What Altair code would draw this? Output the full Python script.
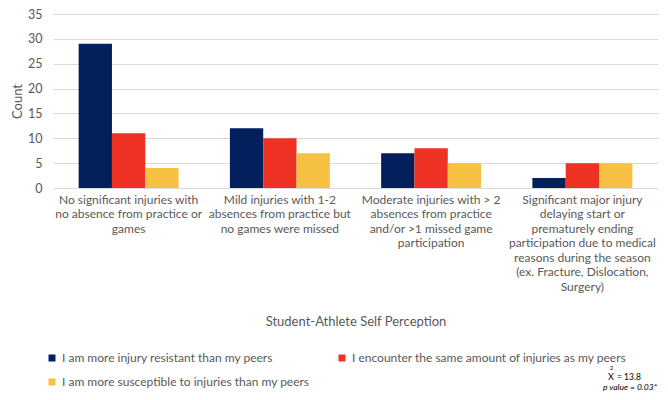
import altair as alt
import pandas as pd

# ---- data ----
category_lines = [
    ["No significant injuries with", "no absence from practice or", "games"],
    ["Mild injuries with 1-2", "absences from practice but", "no games were missed"],
    ["Moderate injuries with > 2", "absences from practice", "and/or >1 missed game", "participation"],
    ["Significant major injury", "delaying start or", "prematurely ending",
     "participation due to medical", "reasons during the season",
     "(ex. Fracture, Dislocation,", "Surgery)"],
]
series_names = [
    "I am more injury resistant than my peers",
    "I encounter the same amount of injuries as my peers",
    "I am more susceptible to injuries than my peers",
]
resistant = [29, 12, 7, 2]
same = [11, 10, 8, 5]
susceptible = [4, 7, 5, 5]
series_colors = ["#03205C", "#EE3224", "#F6C143"]

chi_label = "X"
chi_sup = "2"
chi_value = "= 13.8"
p_label = "p value = 0.03*"

categories = ["\n".join(l) for l in category_lines]
rows = []
for vals, name in zip([resistant, same, susceptible], series_names):
    for c, v in zip(categories, vals):
        rows.append({"category": c, "series": name, "count": v})
df = pd.DataFrame(rows)

FONT = "Lato"
GREY = "#595959"

bars = alt.Chart(df).mark_bar().encode(
    x=alt.X("category:N", sort=categories,
            scale=alt.Scale(paddingInner=0.339, paddingOuter=0.1695),
            axis=alt.Axis(title="Student-Athlete Self Perception", labelAngle=0,
                          labelExpr="split(datum.label, '\\n')",
                          labelBaseline="top", labelLineHeight=14.5,
                          labelPadding=6, labelFontSize=12, labelColor=GREY,
                          labelFont=FONT, labelLimit=300,
                          ticks=False, tickSize=0, domain=False,
                          titleFont=FONT, titleFontSize=13, titleColor=GREY,
                          titleFontWeight="normal", titleY=133,
                          titleBaseline="middle")),
    xOffset=alt.XOffset("series:N", sort=series_names,
                        scale=alt.Scale(domain=series_names, paddingInner=0, paddingOuter=0)),
    y=alt.Y("count:Q", scale=alt.Scale(domain=[0, 35], nice=False),
            axis=alt.Axis(title="Count", values=[0, 5, 10, 15, 20, 25, 30, 35],
                          labelFontSize=12.5, labelColor=GREY, labelFont=FONT,
                          labelPadding=11, ticks=False, tickSize=0, domain=False,
                          gridColor="#D9D9D9", gridWidth=1,
                          titleFont=FONT, titleFontSize=13, titleColor=GREY,
                          titleFontWeight="normal", titleX=-36, titleY=87,
                          titleAlign="center", titleBaseline="middle")),
    color=alt.Color("series:N",
                    scale=alt.Scale(domain=series_names, range=series_colors),
                    legend=alt.Legend(title=None, orient="none", legendX=-7, legendY=338,
                                      direction="horizontal", values=series_names,
                                      columns=2, columnPadding=26, rowPadding=12,
                                      symbolType="square", symbolSize=49,
                                      symbolStrokeWidth=0, labelOffset=4,
                                      labelFont=FONT, labelFontSize=12,
                                      labelColor=GREY, labelLimit=400, padding=0)),
)

def note(txt, x, y, size=8.5, style="normal", align="left"):
    return alt.Chart(pd.DataFrame({"t": [txt]})).mark_text(
        font=FONT, fontSize=size, fontStyle=style, color="#000000",
        align=align, baseline="middle"
    ).encode(x=alt.value(x), y=alt.value(y), text="t:N")

notes = (
    note(chi_label, 555, 363, 9)
    + note(chi_sup, 557, 354, 5.5)
    + note(chi_value, 564, 363, 8.5)
    + note(p_label, 550, 373, 8.5, "italic")
)

chart = alt.layer(bars, notes).properties(
    width=605, height=174,
    autosize=alt.AutoSizeParams(type="none"),
    padding={"left": 45, "top": 6, "right": 2, "bottom": 204},
).configure_view(stroke=None).configure_axis(grid=True).configure_axisX(grid=False)

chart.save("out.html", embed_options={"renderer": "svg", "actions": False})
